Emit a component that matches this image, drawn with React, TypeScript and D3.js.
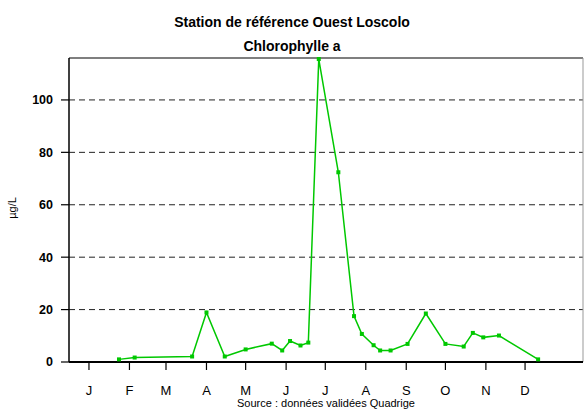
import React from "react";
import * as d3 from "d3";

const sampleDates = [
  "2010-02-07", "2010-02-19", "2010-04-04", "2010-04-15", "2010-04-29", "2010-05-15",
  "2010-06-04", "2010-06-12", "2010-06-18", "2010-06-26", "2010-07-02", "2010-07-10",
  "2010-07-25", "2010-08-06", "2010-08-12", "2010-08-21", "2010-08-26", "2010-09-03",
  "2010-09-16", "2010-09-30", "2010-10-15", "2010-10-29", "2010-11-05", "2010-11-13",
  "2010-11-25", "2010-12-25",
];
const chlValues = [
  1.0, 1.7, 2.1, 18.9, 2.1, 4.8,
  7.0, 4.4, 8.0, 6.3, 7.4, 115.6,
  72.4, 17.5, 10.7, 6.4, 4.4, 4.4,
  6.9, 18.5, 6.9, 5.9, 11.1, 9.4,
  10.1, 1.0,
];
const yTicks = [0, 20, 40, 60, 80, 100];
const monthLabels = ["J", "F", "M", "A", "M", "J", "J", "A", "S", "O", "N", "D"];
const titleLines = ["Station de référence Ouest Loscolo", "Chlorophylle a"];
const yLabel = "µg/L";
const sourceText = "Source : données validées Quadrige";

const W = 584;
const H = 409;
const L = 69;
const R = 583;
const T = 58;
const B = 362;
const FONT = "'Liberation Sans', Arial, sans-serif";
const GREEN = "#00c800";

export default function App() {
  const parse = d3.timeParse("%Y-%m-%d");
  const start = new Date(2010, 0, 1);
  const x = d3
    .scaleTime()
    .domain([d3.timeHour.offset(start, -31), d3.timeHour.offset(start, 392.4 * 24)])
    .range([L, R]);
  const y = d3.scaleLinear().domain([0, 116]).range([B, T]);

  const data = sampleDates.map((d, i) => ({ date: parse(d) as Date, v: chlValues[i] }));
  const line = d3
    .line<{ date: Date; v: number }>()
    .x((d) => x(d.date))
    .y((d) => y(d.v));

  const monthTicks = monthLabels.map((m, i) => ({ m, date: new Date(2010, i, 15) }));

  return (
    <svg
      width={W}
      height={H}
      style={{ position: "absolute", left: 0, top: 0, background: "#fff" }}
      fontFamily={FONT}
    >
      <rect x={0} y={0} width={W} height={H} fill="#fff" />
      {titleLines.map((t, i) => (
        <text
          key={i}
          x={292}
          y={27 + i * 24}
          textAnchor="middle"
          fontSize={14}
          fontWeight="bold"
          fill="#000"
        >
          {t}
        </text>
      ))}

      {/* gridlines */}
      {yTicks
        .filter((t) => t > 0)
        .map((t) => (
          <line
            key={"g" + t}
            x1={L}
            x2={R}
            y1={y(t)}
            y2={y(t)}
            stroke="#222"
            strokeWidth={1}
            strokeDasharray="6,4"
          />
        ))}

      {/* frame */}
      <line x1={L} x2={R} y1={T} y2={T} stroke="#000" strokeWidth={1.2} />
      <line x1={R} x2={R} y1={T} y2={B} stroke="#999" strokeWidth={1} />
      <line x1={L} x2={L} y1={T} y2={B} stroke="#000" strokeWidth={1.5} />
      <line x1={L} x2={R} y1={B} y2={B} stroke="#000" strokeWidth={2} />

      {/* y ticks */}
      {yTicks.map((t) => (
        <g key={"y" + t}>
          <line x1={61} x2={L} y1={y(t)} y2={y(t)} stroke="#000" strokeWidth={1.2} />
          <text
            x={53}
            y={y(t)}
            dy="0.35em"
            textAnchor="end"
            fontSize={12.5}
            fontWeight="bold"
            fill="#000"
          >
            {t}
          </text>
        </g>
      ))}

      {/* x ticks */}
      {monthTicks.map((d, i) => (
        <g key={"x" + i}>
          <line x1={x(d.date)} x2={x(d.date)} y1={B} y2={370} stroke="#000" strokeWidth={1.2} />
          <text x={x(d.date)} y={395} textAnchor="middle" fontSize={13} fill="#000">
            {d.m}
          </text>
        </g>
      ))}

      <text
        transform={`translate(16,208) rotate(-90)`}
        textAnchor="middle"
        fontSize={11}
        fill="#000"
      >
        {yLabel}
      </text>

      <text x={326} y={407} textAnchor="middle" fontSize={11} fill="#000">
        {sourceText}
      </text>

      {/* series */}
      <path d={line(data) || ""} fill="none" stroke={GREEN} strokeWidth={1.5} />
      {data.map((d, i) => (
        <rect
          key={"p" + i}
          x={x(d.date) - 2}
          y={y(d.v) - 2}
          width={4}
          height={4}
          fill={GREEN}
        />
      ))}
    </svg>
  );
}
